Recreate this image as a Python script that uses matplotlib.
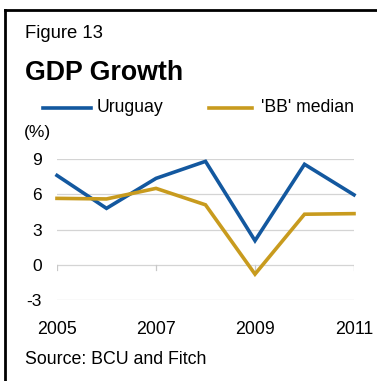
import numpy as np
import matplotlib.pyplot as plt
from matplotlib.lines import Line2D

plt.rcParams['font.family'] = ['Liberation Sans', 'DejaVu Sans']

years = [2005, 2006, 2007, 2008, 2009, 2010, 2011]
uruguay = [7.6, 4.8, 7.35, 8.8, 2.05, 8.55, 5.95]
bb_median = [5.65, 5.6, 6.5, 5.1, -0.8, 4.3, 4.35]
yticks = [-3, 0, 3, 6, 9]
xticks = [2005, 2007, 2009, 2011]

blue = '#13589f'
gold = '#c89b1e'

W, H = 377, 381
fig = plt.figure(figsize=(W / 100, H / 100), dpi=100)

ax = fig.add_axes([57 / W, 1 - 300 / H, (354 - 57) / W, (300 - 159) / H])
ax.plot(years, uruguay, color=blue, lw=2.6, clip_on=False, solid_joinstyle='miter')
ax.plot(years, bb_median, color=gold, lw=2.6, clip_on=False, solid_joinstyle='miter')
ax.set_xlim(2005, 2011)
ax.set_ylim(-3, 9)

ax.set_yticks(yticks)
ax.set_yticklabels([str(v) for v in yticks], fontsize=12.5)
ax.grid(axis='y', color='#d4d4d4', lw=0.9)
ax.set_axisbelow(True)
ax.tick_params(axis='y', length=0, pad=11)

# x ticks hang from the zero line, labels sit below the plot
ax.set_xticks(xticks)
ax.set_xticklabels([str(v) for v in xticks], fontsize=12.8)
ax.tick_params(axis='x', length=0, pad=15)
for x in xticks:
    ax.plot([x, x], [0, -0.45], color='#c8c8c8', lw=0.9, zorder=1)
for s in ax.spines.values():
    s.set_visible(False)

# frame round the panel
fig.add_artist(Line2D([5 / W, 5 / W], [0, 1 - 10 / H], color='black', lw=2, transform=fig.transFigure))
fig.add_artist(Line2D([5 / W, 1], [1 - 10 / H, 1 - 10 / H], color='black', lw=2, transform=fig.transFigure))

fig.text(25 / W, 1 - 33 / H, 'Figure 13', fontsize=13.3, va='center', ha='left')
fig.text(25 / W, 1 - 73 / H, 'GDP Growth', fontsize=19.3, fontweight='bold', va='center', ha='left')

# legend drawn by hand
ly = 1 - 108 / H
fig.add_artist(Line2D([43 / W, 91 / W], [ly, ly], color=blue, lw=2.6, transform=fig.transFigure))
fig.text(97 / W, ly, 'Uruguay', fontsize=12.7, va='center', ha='left')
fig.add_artist(Line2D([209 / W, 252 / W], [ly, ly], color=gold, lw=2.6, transform=fig.transFigure))
fig.text(261 / W, ly, "'BB' median", fontsize=12.7, va='center', ha='left')

fig.text(24 / W, 1 - 132 / H, '(%)', fontsize=12.5, va='center', ha='left')
fig.text(25 / W, 1 - 359 / H, 'Source: BCU and Fitch', fontsize=12.8, va='center', ha='left')

plt.savefig('out.png', dpi=100)
